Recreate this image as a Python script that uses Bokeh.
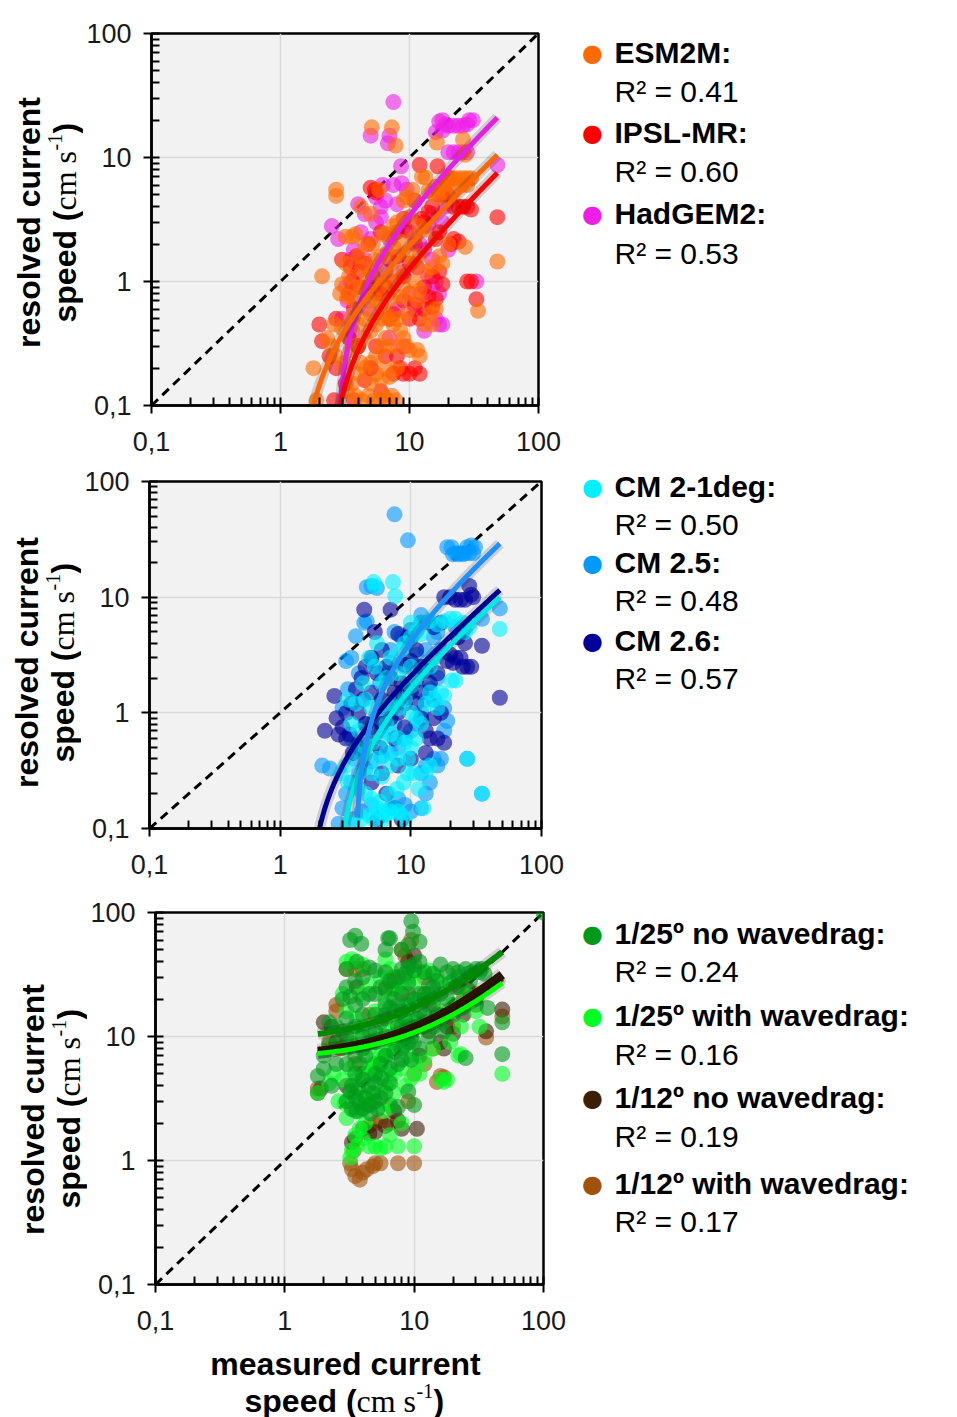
import numpy as np
from bokeh.plotting import figure
from bokeh.models import FixedTicker, CustomJSTickFormatter, Label, Range1d
from bokeh.layouts import column, row
from bokeh.embed import file_html
from bokeh.resources import INLINE

# ---------------- axis data ----------------
tick_values = [0.1, 1, 10, 100]
tick_labels = ["0,1", "1", "10", "100"]
minor_values = [m * 10.0 ** e for e in (-1, 0, 1) for m in range(2, 10)]
one_to_one = [0.1, 100]

# ---------------- panel 1 data (x = measured, y = resolved) ----------------
esm2m_pts = [(5.1,17.5),(7.3,17.5),(7.8,12.5),(16.3,13.2),(26,14),(27,10.5),(12.5,7.0),(13.3,6.9),
 (2.7,5.5),(2.7,4.9),(5.8,5.5),(5.0,3.5),(4.2,4.0),(3.8,2.4),(3.6,2.3),(3.2,2.3),
 (2.1,1.1),(1.8,0.2),(1.9,0.11),(27,1.9),(34,0.58),(48,1.45),(20,2.0),(17,1.6),(18,1.4),
 (17,5.5),(18,6),(19,6.5),(20,6.8),(21,6.8),(22,6.8),(24,6.8),(26,6.8),(28,6.8),(30,6.8),(19,5.2),
 (22,5.8),(25,6),(28,6),(17,4.7),(15,5.2),(14,5.4),(16,5.8),(10.5,5.5),(9.5,4.8),(9,4.5),(10,3.3),
 (12,2.8),(13,2.6),(11,2.3),(8,3),(7.5,2.8),(7,2.4),(6.2,2.4),(5.2,2.0),(4.5,2.0),(4.0,1.6),(3.2,1.4),
 (3,0.95),(2.9,0.8),(3.3,0.75),(3.7,0.7),(4.2,0.9),(4.8,1.1),(5.5,1.3),(6,1.6),(6.8,1.7),(7.5,1.9),
 (8.5,2.1),(9.5,1.7),(10.5,1.4),(11,1.0),(12,0.85),(11.5,0.7),(10,0.8),(9,0.9),(8,1.2),(7,1.0),(6,0.9),
 (5.5,0.7),(5,0.55),(4.5,0.5),(4,0.45),(3.5,0.5),(3,0.42),(2.6,0.45),(2.5,0.3),(2.3,0.35),(2.7,0.25),
 (3.1,0.22),(3.5,0.28),(4,0.3),(4.5,0.35),(5,0.4),(5.5,0.45),(6,0.5),(6.5,0.55),(7,0.5),(7.5,0.45),
 (8,0.5),(8.5,0.4),(9,0.35),(9.5,0.3),(10,0.28),(11.5,0.28),(12,0.25),(8,0.3),(7,0.3),(6.5,0.35),
 (6,0.3),(5.5,0.25),(5,0.22),(4.5,0.2),(4,0.18),(3.6,0.15),(3.3,0.13),(3.8,0.12),(4.3,0.11),(4.8,0.12),
 (5.3,0.11),(5.8,0.11),(6.3,0.12),(6.8,0.11),(7.3,0.12),(7.8,0.11),(5,0.15),(6,0.16),(7,0.17),(8,0.2),
 (6.5,0.2),(5.5,0.18),(4.2,0.22),(15,0.45),(14.5,0.55),(13,0.45),(16,0.6),(13.5,1.2),(15,1.3),(12,1.6),
 (8.5,0.75),(9.5,0.55),(6,0.65),(7.2,0.72),(4.8,0.7),(3.8,0.9),(3.4,1.1),(4.3,1.3),(5.3,1.5)]

ipsl_pts = [(5.0,5.7),(5.4,5.5),(5.5,5.2),(12,8.7),(16.5,8.5),(20,6.5),(22,4.0),(24,4.0),(26,4.0),(28,4.0),
 (30,3.8),(22,2.2),(24,2.1),(21,2.0),(28,1.0),(33,0.72),(48,3.3),(30,1.0),(2.0,0.45),(2.1,0.33),(2.4,0.25),
 (2.6,0.11),(2.7,0.2),(3.0,1.5),(3.5,1.3),(4,1.2),(4.5,1.4),(3.6,1.0),(4.2,0.9),(4.8,0.9),(5.5,0.8),(6,0.8),
 (6.5,0.9),(7,0.5),(7.5,0.55),(8,0.25),(8.5,0.2),(9,0.18),(10,0.18),(11,0.2),(12,0.18),(13,0.6),(14,0.75),
 (15,0.62),(16,0.72),(17,1.2),(18,0.95),(15,1.1),(10,1.4),(9,1.1),(7.5,1.0),(11,2.0),(13,3.0),(12.5,3.2),
 (8,2.5),(9,3.2),(9.5,2.6),(6,2.5),(4.8,2.0),(3.7,0.6),(2.7,0.5),(15,4.0),(14,3.6),(18,5.0),(20,5.0),
 (3.2,0.15),(3.7,0.11),(4.5,0.16),(5.5,0.3),(6.5,0.25),(7.5,0.18),(6,0.13),(5,0.2),(4,0.3),(3.4,0.35),
 (10,0.5),(11,0.65),(12,0.5),(9,0.7),(16,2.2),(17,2.5),(11,4.5),(3.4,0.8),(3.9,1.6),(5.2,1.1),(7,1.5),
 (8.2,1.6),(13,0.9),(11.5,1.3)]

hadgem_pts = [(7.5,28),(5.0,15),(7.0,15),(6.8,13),(17,19.5),(18,20),(19,18.5),(20,18),(22,18),(24,18),
 (26,18),(28,18.5),(29,20),(31,20),(16,16),(18,16.5),(20,11),(22,11),(24,11),(26,11),(28,11),(8.6,8.5),
 (8.7,6.2),(2.5,2.8),(2.8,2.2),(48,8.7),(33,1.0),(18,0.45),(20,1.8),(3.3,0.7),(3.5,1.0),(3.5,1.5),(4.5,1.5),
 (5.5,3.0),(6,4.0),(6.5,4.5),(7,2.2),(10,2.5),(12,2.0),(14,1.1),(15,0.9),(16,0.5),(17,0.45),(13,0.4),
 (8,0.6),(5.5,4.8),(7.5,6.0),(4.5,3.5),(11,3.0),(12.5,0.8),(18,3.0),(4,0.3),(3,0.5),(3.2,0.9),(4.2,2.5),
 (5,2.2),(6.5,1.2),(9,1.2),(10,0.8),(11,0.6),(13,1.8),(15,1.5),(16,1.0),(17,0.8),(4.8,0.6),(3.7,1.8),
 (8,4.2),(6,3.3),(3.6,0.4),(7,0.35),(9,0.3),(5,0.2),(14,2.8),(15,3.5),(19,4),(17,5),(9.5,5.5),(6.2,6.0),
 (4,4.2)]

# ---------------- panel 2 data ----------------
cm25_pts = [(7.5,52),(9.5,31),(19,27),(20.5,27),(22,24),(24,24),(26,24),(28,24),(30,24),(27,27),(29,28),
 (31,27),(21,23.5),(23,23.5),(25,23.5),(5.0,12.5),(4.6,12.2),(5.5,12),(4.4,6),(4.6,6.2),(3.8,4.6),(3.5,3),
 (3.2,2.8),(7.5,5),(3,1.1),(2.4,0.33),(2.1,0.35),(48,8),(27,0.4),(35,0.2),(3.3,1.6),(4,2.2),(5,2.8),(6,2.2),
 (7,3.5),(8.5,4.5),(10,4.4),(12,7),(14,6),(16,5),(17,3.5),(16,2),(14,1.6),(13,1.3),(12,1.0),(11,0.8),
 (10,0.7),(9,0.6),(8,0.5),(7,0.45),(6,0.42),(5,0.38),(4.5,0.33),(4,0.3),(3.5,0.25),(3.2,0.2),(3,0.15),
 (2.8,0.11),(3.6,0.12),(4.2,0.14),(5,0.16),(6,0.13),(7,0.15),(8,0.18),(9,0.16),(10,0.14),(12,0.15),
 (13,0.2),(14,0.25),(12,0.3),(13,0.35),(15,0.4),(16,0.35),(17,0.4),(18,0.7),(19,0.85),(4.5,0.8),(5.5,0.9),
 (6.5,1.1),(8,1.3),(9.5,1.5),(11,1.9),(4,0.55),(3.5,0.6),(6,0.7),(7.5,0.8),(18,1.1),(5.8,1.8),(7,2.7),
 (9,2.5),(11,3.2),(13,3.5),(15,4.5),(22,5.5),(25,5),(35,6.5),(3.7,0.4)]

cm26_pts = [(4.4,7.8),(7.0,7.8),(2.6,1.4),(2.2,0.7),(3.4,0.65),(3.0,0.75),(2.8,0.65),(3.2,0.6),(48,1.35),
 (35,3.8),(28,12.5),(29,10.5),(20,10),(22,9.5),(24,9.5),(26,9.5),(30,10),(18,10),(25,2.5),(27,2.5),(29,2.5),
 (22,3),(21,2.7),(24,3),(17,1.0),(15,0.9),(18,0.55),(6,3.5),(5.3,5),(8,4.8),(9.5,4.5),(10,5.2),(11,3.5),
 (12,2.5),(13,2.3),(14,1.8),(10,1.5),(9,1.2),(8,1.0),(7,0.9),(6,0.8),(5,0.7),(4.5,0.8),(4,1.0),(3.5,1.2),
 (3.8,1.6),(4.2,2.0),(4.5,2.5),(5,3.0),(5.5,2.2),(6.5,2.5),(7,2.0),(7.5,1.5),(8.5,1.8),(9,2.6),(10,2.8),
 (11,1.2),(12,0.9),(13,0.7),(14,0.6),(16,0.6),(13,0.45),(10,0.4),(8,0.35),(6,0.3),(5,0.25),(6.5,0.2),
 (7.5,0.15),(8.5,0.12),(5.5,0.12),(4,0.5),(3.6,0.45),(5.8,0.5),(7.5,0.6),(9,0.75),(2.7,0.9),(3.2,1.0),
 (6,1.3),(5,1.5),(4.3,1.3),(15,1.3),(12,1.5),(16,2.2),(19,2.8),(20,3.2),(23,4.5),(26,4),(17,6),(15,5.5),(12,6)]

cm21_pts = [(5.2,13.5),(7.3,13.5),(7.6,10.2),(5.3,12.5),(10,6),(12,6),(14,6.2),(16,5.8),(18,6.2),(20,6.5),
 (22,6.5),(25,6),(28,5.5),(26,5),(20.5,1.9),(22,1.9),(17,1.5),(18,1.4),(27,0.4),(35,0.2),(48,5.3),(4.8,3),
 (5.5,4),(3.3,1.3),(3.8,1.2),(4.5,1.3),(5,1.1),(6,1.1),(7,1.2),(8,1.1),(9,1.3),(10,1.0),(11,0.9),(12,0.8),
 (11,0.6),(10,0.5),(9,0.55),(8,0.6),(7,0.65),(6,0.6),(5,0.55),(4.5,0.5),(3.8,0.45),(3.2,0.35),(2.9,0.3),
 (3.3,0.25),(4,0.22),(4.5,0.2),(5,0.18),(5.5,0.15),(6,0.14),(6.5,0.13),(7,0.14),(7.5,0.15),(8,0.14),
 (8.5,0.13),(9,0.12),(6.2,0.12),(5.2,0.12),(4.2,0.12),(3.6,0.11),(4.8,0.13),(5.8,0.17),(6.8,0.2),(7.8,0.22),
 (8.8,0.25),(9.5,0.3),(10.5,0.3),(11.5,0.22),(12.5,0.15),(6,0.28),(5,0.3),(7,0.35),(8,0.4),(9.5,0.4),
 (13,0.3),(14,0.35),(6.5,0.45),(5.5,0.4),(12,2.2),(14,2.5),(15,3),(10,2.5),(8,2.2),(6.5,2.0),(7,3),
 (8.5,3.5),(9,4),(10,4.5),(11,5),(12,4.8),(6,1.8),(5.3,2.5),(4.3,1.8),(3.5,0.8),(4,0.7),(6.5,0.8),(13,1.2),
 (14,1.5),(15,1.3),(16,1.1),(10,1.7)]

# ---------------- panel 3 data ----------------
nw25_pts = [(100,100),(9.5,85),(9.8,70),(3.2,60),(3.5,65),(3.9,56),(6.5,62),(6.3,62),(6.0,50),(11,58),(8,50),
 (9,55),(3.0,35),(14,32),(16,38),(20,35),(25,35),(30,35),(33,35),(18,33),(22,33),(12,33),(10,34),(8,35),(6,33),
 (5,34),(4.5,36),(3.6,40),(7,28),(5.5,25),(4.5,22),(3.5,18),(3.0,14),(2.5,12),(2.2,13),(2.8,20),(3.2,21),
 (4,15),(5,15),(6,18),(7,20),(8,22),(9,18),(10,20),(11,22),(12,20),(13,18),(15,15),(6,10),(5,9),(4,8),(3.5,7),
 (3,6),(2.5,6),(2,5.5),(1.8,4.8),(4.5,11),(7.5,12),(8.5,8.5),(9.5,6.5),(11,8),(13,10),(14,12),(17,11),(20,15),
 (24,17),(30,20),(37,17),(48,7.2),(25,6.7),(48,13),(7.5,2.7),(10,2.8),(9,3.6),(3,3),(3.3,2.6),(3.6,2.5),(4,2.6),
 (4.5,2.8),(5,3),(5.5,3.2),(6,3.5),(3.5,3.3),(4.2,3.2),(4.8,3.5),(3.2,3.6),(6.5,4.2),(4,4.5),(5,5),(3.5,5),
 (2.3,4),(6,7),(7,7.5),(8,6.5),(10,9),(12,12),(16,13),(18,20),(21,25),(27,28),(35,32),(15,28),(9,27),(13,26),
 (3.5,12),(4,10),(4.5,9),(5,11),(5.5,13),(6,15),(6.5,17),(7,16),(7.5,18),(8,16),(8.5,14),(9,12),(9.5,10),
 (10,12),(10.5,14),(11,16),(4,20),(5,22),(6,24),(6.5,28),(7.5,30),(8.5,32),(9,36),(10,38),(11,40),(3,25),
 (3.5,28),(4,30),(2.6,9),(2.8,11),(3.2,9),(3.8,6),(4.2,7),(5.5,6),(6.5,5.5),(7.5,6),(8,8),(9,9),(2,7),
 (2.2,8.5),(12,15),(13,22),(14,25),(16,22),(19,27),(22,30),(26,32),(28,33),(32,33),(3.3,4),(3.7,3.8),
 (4.4,4),(5,4.2),(5.6,4.6),(3.8,2.9),(4.6,2.4),(5.2,2.6)]

ww25_pts = [(3.0,40),(6.0,42),(3.3,42),(2.8,22),(48,5.0),(22,7.0),(23,7.2),(16,4.5),(17,4.3),(18,4.5),(3.2,1.05),
 (3.3,1.2),(3.5,1.6),(4.0,1.5),(3.6,1.3),(4.5,1.3),(5,1.3),(5.5,1.25),(6,1.3),(7.5,1.3),(10,1.3),(3.8,1.8),
 (4.2,2.0),(3.5,2.5),(4.8,3.0),(5.5,3.6),(6,4),(6.5,4.5),(7,5),(5,4.8),(4.5,6),(5.5,7),(6.5,8),(7.5,9),(8.5,10),
 (9.5,11),(11,12),(13,13),(15,14),(17,16),(20,18),(25,22),(32,12),(30,16),(14,8),(12,6.5),(10,6),(9,7),(8,5.5),
 (3,8),(3.5,10),(4,12),(5,16),(6,20),(7,24),(9,30),(11,33),(13,34),(15,30),(4.5,26),(3.8,22),(6,5.5),(7,3.5),
 (8.5,4),(9.5,4.6),(11,5),(2.6,3),(2.8,4.5),(1.8,3.5),(3.2,5.5),(6.5,1.6),(8,2),
 (3.6,4.5),(4.2,5),(4.8,5.5),(5.2,6.2),(5.8,6.8),(6.2,7.5),(7,9),(8,10.5),(9,12),(10,13),(4.5,8),(5,9.5),
 (6,11),(7,13),(8,15),(9,17),(10,19),(12,21),(3.3,3.5),(3.9,3.2),(4.4,3.5),(3,2.2),(3.8,2.5),(4.3,2.8),
 (2.9,2.9),(6.5,2.8),(5.8,2.5),(7,10),(2.4,5),(2.2,4.2),(3,16),(3.6,14),(14,20),(17,25),(20,28),(23,12),
 (19,9),(8,25),(10,27),(5.5,30),(6.5,35),(4,38)]

nw12_pts = [(2.0,13),(2.3,12),(10.5,1.8),(8,1.8),(7.5,2.1),(6,1.9),(4,1.8),(3.5,1.5),(3.3,1.4),(4.5,1.65),(5,1.7),
 (48,16.5),(20,10.5),(18,12),(22,25),(10,45),(9,40),(12,22),(1.8,3.5),(1.9,3.8),(3.6,25),(7,24),(9,22),(26,24),
 (30,18),(14,18),(16,9),(8,12),(6,14),(5,6),(4,5),(3,4),(6.5,2.8),(7,2.5),(3,10),(2.5,9),(11,7),(13,11),(17,8),
 (24,15),(36,11)]

ww12_pts = [(48,14.5),(36,9.8),(16,4.8),(17,4.7),(3.3,0.85),(3.5,0.75),(3.8,0.7),(4,0.8),(4.3,0.85),(4.8,0.9),
 (5,0.95),(5.5,0.95),(7.5,0.95),(10,0.95),(3.2,0.95),(2.5,18),(2.5,16),(3.0,35),(3.5,35),(4,35),(1.8,3.8),
 (5,2.0),(5.5,2.1),(6.5,2.0),(4.5,1.9),(3.4,1.2),(8,50),(9.5,60),(8.5,45),(2.2,9),(2.7,8),(10,5),(12,6),(14,8),
 (20,12),(24,20),(30,22),(6,25),(4.5,15),(3.5,6),(12,30),(7,30),(15,4.3),(9,3)]

# ---------------- linear fits  y = a*x + b  (drawn on log axes) ----------------
fit1_a = [0.225, 0.164, 0.463]          # ESM2M, IPSL-MR, HadGEM2
fit1_b = [-0.305, -0.376, -1.243]
fit1_x0 = [1.8, 2.9, 2.9]
fit2_a = [0.2205, 0.655, 0.248]         # CM 2-1deg, CM 2.5, CM 2.6
fit2_b = [-0.584, -2.43, -0.396]
fit2_x0 = [3.1, 3.9, 2.0]
fit3_a = [0.812, 0.426, 0.517, 0.478]   # 1/25 no, 1/25 with, 1/12 no, 1/12 with
fit3_b = [9.04, 6.53, 6.67, 6.54]
fit3_x0 = [1.8, 1.8, 1.8, 1.8]
fit_x1 = 48.0

names1 = ["ESM2M:", "IPSL-MR:", "HadGEM2:"]
r2_1 = ["0.41", "0.60", "0.53"]
names2 = ["CM 2-1deg:", "CM 2.5:", "CM 2.6:"]
r2_2 = ["0.50", "0.48", "0.57"]
names3 = ["1/25º no wavedrag:", "1/25º with wavedrag:", "1/12º no wavedrag:", "1/12º with wavedrag:"]
r2_3 = ["0.24", "0.16", "0.19", "0.17"]

SANS = "Liberation Sans"
SERIF = "Liberation Serif"
W, H = 957, 1417
AXIS_BORDER = 65      # room for y tick labels left of each frame
LEFT_W = 576          # width of the left block (labels + plots)


def make_panel(top, height, fl, fr, ft, fb, width):
    """Main log-log plot; frame from page x=fl..fr, y=ft..fb."""
    p = figure(width=width, height=height, x_axis_type="log", y_axis_type="log",
               x_range=Range1d(0.1, 100), y_range=Range1d(0.1, 100),
               min_border_left=AXIS_BORDER, min_border_right=LEFT_W - fr,
               min_border_top=ft - top, min_border_bottom=top + height - fb,
               output_backend="svg", toolbar_location=None)
    p.background_fill_color = "#F2F2F2"
    p.border_fill_color = "white"
    p.outline_line_color = "black"
    p.outline_line_width = 2.5
    p.outline_line_alpha = 1
    fmt = CustomJSTickFormatter(args=dict(vals=tick_values, labs=tick_labels), code="""
        for (let i = 0; i < vals.length; i++) {
            if (Math.abs(Math.log10(vals[i]) - Math.log10(tick)) < 1e-6) { return labs[i]; }
        }
        return "";
    """)
    for ax in (p.xaxis, p.yaxis):
        ax.ticker = FixedTicker(ticks=tick_values, minor_ticks=minor_values)
        ax.formatter = fmt
        ax.axis_line_color = "black"
        ax.axis_line_width = 2.5
        ax.major_tick_line_color = "black"
        ax.major_tick_line_width = 2
        ax.minor_tick_line_color = "black"
        ax.minor_tick_line_width = 2
        ax.major_tick_in = 8
        ax.major_tick_out = 8
        ax.minor_tick_in = 8
        ax.minor_tick_out = 0
        ax.major_label_text_font = SANS
        ax.major_label_text_font_size = "27px"
        ax.major_label_text_color = "#1a1a1a"
    p.xaxis.major_label_standoff = 18
    p.yaxis.major_label_standoff = 12
    p.grid.grid_line_color = "#D9D9D9"
    p.grid.grid_line_width = 1.5
    p.line(one_to_one, one_to_one, line_color="black", line_width=3, line_dash="9 6")
    return p


def blank(left, width, height, origin_bottom):
    """Helper canvas for texts; texts are placed in page coordinates."""
    f = figure(width=width, height=height, x_range=Range1d(0, 1), y_range=Range1d(0, 1),
               x_axis_location=None, y_axis_location=None, min_border=0,
               output_backend="svg", toolbar_location=None)
    f.grid.visible = False
    f.outline_line_color = None
    f.background_fill_color = "white"
    f.border_fill_color = "white"
    f._origin = (left, origin_bottom)
    return f


def lab(f, cx, cy, text, size, font=SANS, style="normal", align="left", angle=0.0, color="black"):
    ox, ob = f._origin
    f.add_layout(Label(x=cx - ox, y=ob - cy, x_units="screen", y_units="screen", text=text,
                       text_font=font, text_font_size=f"{size}px", text_font_style=style,
                       text_align=align, text_baseline="middle", angle=angle, text_color=color))


def scatter(p, pts, color):
    xs = [a for a, b in pts]
    ys = [b for a, b in pts]
    p.scatter(xs, ys, size=16, fill_color=color, fill_alpha=0.6, line_color=None)


def fit(p, a, b, x0, color, width=5):
    xs = np.geomspace(x0, fit_x1, 120)
    ys = a * xs + b
    p.line(xs, ys, line_color="black", line_alpha=0.15, line_width=width + 6)
    p.line(xs, ys, line_color=color, line_width=width)


def ylabel(f, x2, yc1, y2start):
    lab(f, x2 - 36, yc1, "resolved current", 32, style="bold", align="center", angle=np.pi / 2)
    lab(f, x2, y2start, "speed (", 32, style="bold", angle=np.pi / 2)
    lab(f, x2, y2start - 112, "cm s", 32, font=SERIF, angle=np.pi / 2)
    lab(f, x2 - 10, y2start - 172, "-1", 20, font=SERIF, angle=np.pi / 2)
    lab(f, x2, y2start - 189, ")", 32, style="bold", angle=np.pi / 2)


def legend(f, ys, names, r2s, colors):
    for i, (nm, r2, c) in enumerate(zip(names, r2s, colors)):
        lab(f, 592, ys[2 * i], "●", 24, font="DejaVu Sans", align="center", color=c)
        lab(f, 614, ys[2 * i], nm, 30, style="bold")
        lab(f, 614, ys[2 * i + 1], "R² = " + r2, 30)


def panel_row(top, height, fl, fr, ft, fb):
    yw = fl - AXIS_BORDER
    p = make_panel(top, height, fl, fr, ft, fb, LEFT_W - yw)
    yfig = blank(0, yw, height, fb)
    return p, yfig, yw


# ---------- panel 1 ----------
c1 = ["#FF6A00", "#FF0000", "#EE1EE6"]
p1, y1, yw1 = panel_row(0, 460, 148, 538, 33, 405)
scatter(p1, hadgem_pts, c1[2])
scatter(p1, ipsl_pts, c1[1])
scatter(p1, esm2m_pts, c1[0])
fit(p1, fit1_a[2], fit1_b[2], fit1_x0[2], "#E61EE6")
fit(p1, fit1_a[0], fit1_b[0], fit1_x0[0], "#FF6600")
fit(p1, fit1_a[1], fit1_b[1], fit1_x0[1], "#FF0000")
ylabel(y1, yw1 - 19, 222, 322)

# ---------- panel 2 ----------
c2 = ["#00F0FF", "#0099FF", "#000099"]
p2, y2, yw2 = panel_row(460, 425, 146, 541, 481, 828)
scatter(p2, cm25_pts, c2[1])
scatter(p2, cm26_pts, c2[2])
scatter(p2, cm21_pts, c2[0])
fit(p2, fit2_a[2], fit2_b[2], fit2_x0[2], "#000099")
fit(p2, fit2_a[0], fit2_b[0], fit2_x0[0], "#00E8E8")
fit(p2, fit2_a[1], fit2_b[1], fit2_x0[1], "#1E90FF")
ylabel(y2, yw2 - 19, 662, 762)

# ---------- panel 3 ----------
c3 = ["#009A1A", "#00FF22", "#3C1E05", "#A0520A"]
p3, y3, yw3 = panel_row(885, 454, 152, 543, 912, 1284)
scatter(p3, ww12_pts, c3[3])
scatter(p3, nw12_pts, c3[2])
scatter(p3, ww25_pts, c3[1])
scatter(p3, nw25_pts, c3[0])
fit(p3, fit3_a[3], fit3_b[3], fit3_x0[3], "#8B4A10", width=6)
fit(p3, fit3_a[2], fit3_b[2], fit3_x0[2], "#2A1300", width=9)
fit(p3, fit3_a[1], fit3_b[1], fit3_x0[1], "#00FF00", width=5)
fit(p3, fit3_a[0], fit3_b[0], fit3_x0[0], "#008A00", width=6)
ylabel(y3, yw3 - 19, 1109, 1208)

# ---------- x label (below panel 3) ----------
x4 = blank(0, LEFT_W, H - 1339, H)
lab(x4, 345, 1363, "measured current", 32, style="bold", align="center")
lab(x4, 244, 1400, "speed (", 32, style="bold")
lab(x4, 356, 1400, "cm s", 32, font=SERIF)
lab(x4, 416, 1390, "-1", 20, font=SERIF)
lab(x4, 433, 1400, ")", 32, style="bold")

# ---------- legends (one tall canvas on the right) ----------
g = blank(LEFT_W, W - LEFT_W, H, H)
legend(g, [52, 91, 132, 171, 213, 253], names1, r2_1, c1)
legend(g, [486, 524, 562, 600, 640, 678], names2, r2_2, c2)
legend(g, [933, 971, 1015, 1054, 1097, 1136, 1183, 1221], names3, r2_3, c3)

left_block = column(row(y1, p1), row(y2, p2), row(y3, p3), x4)
layout = row(left_block, g)
open("out.html", "w").write(file_html(layout, INLINE))
